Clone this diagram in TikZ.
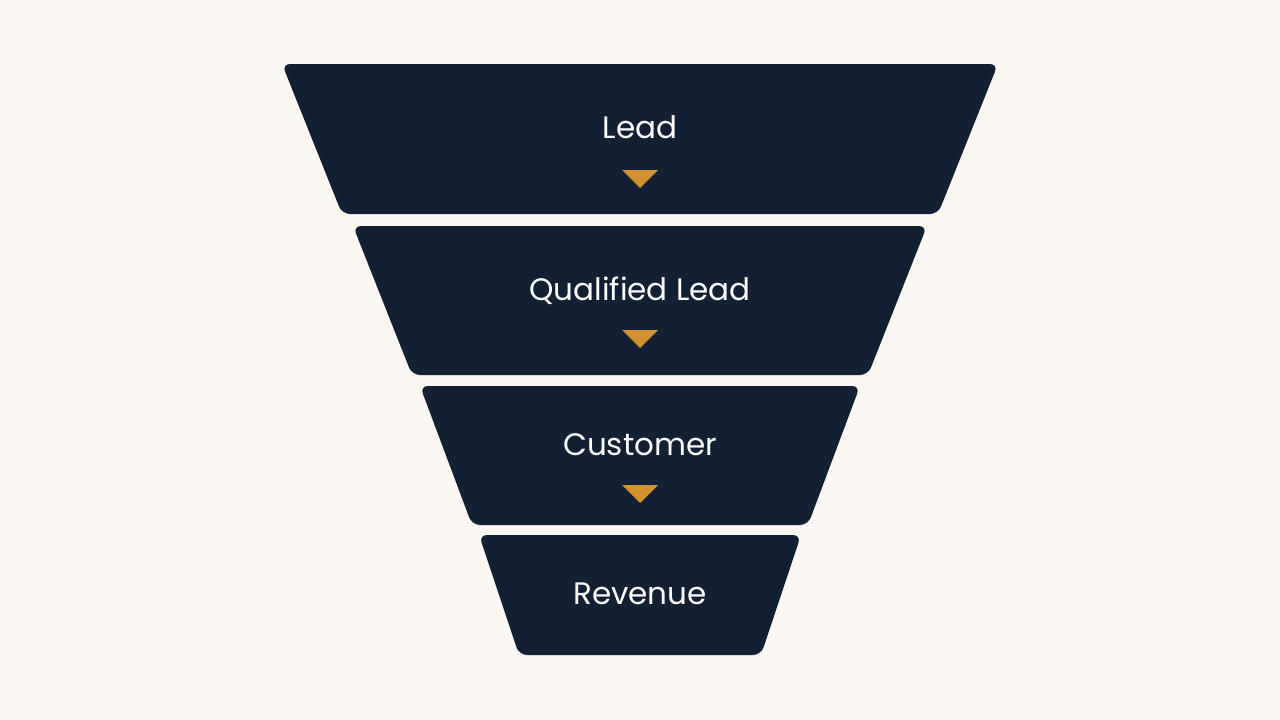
\documentclass[tikz,border=0pt]{standalone}
\usepackage{fontspec}
\setmainfont{Poppins}
\usepackage{tikz}
\definecolor{paper}{HTML}{FBF8F3}
\definecolor{navy}{HTML}{131F33}
\definecolor{amber}{HTML}{D4912F}
\tikzset{stage text/.style={text=white, font=\fontsize{31}{36}\selectfont}}

\begin{document}
\begin{tikzpicture}[x=1pt,y=-1pt]
	\fill[paper] (0,0) rectangle (1280,720);
	\useasboundingbox (0,0) rectangle (1280,720);

	\fill[navy, rounded corners=8] (282,64) -- (998,64) -- (938,214) -- (342,214) -- cycle;
	\fill[navy, rounded corners=8] (353,226) -- (927,226) -- (868,375) -- (412,375) -- cycle;
	\fill[navy, rounded corners=8] (420,386) -- (860,386) -- (808,525) -- (472,525) -- cycle;
	\fill[navy, rounded corners=8] (479,535) -- (801,535) -- (761,655) -- (519,655) -- cycle;

	\node[stage text] (lead) at (640,127) {Lead};
	\node[stage text] (qualified) at (640,291) {Qualified Lead};
	\node[stage text] (customer) at (640,445) {Customer};
	\node[stage text] (revenue) at (640,594) {Revenue};

	\foreach \y in {170,330,485}
		\fill[amber] (622,\y) -- (658,\y) -- (640,\y+18) -- cycle;
\end{tikzpicture}
\end{document}
